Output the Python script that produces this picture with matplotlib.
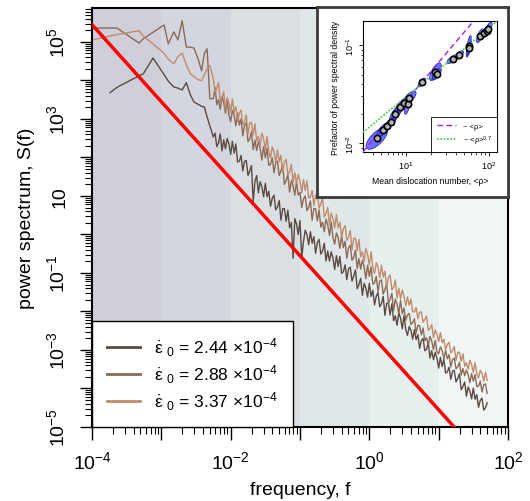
import numpy as np
import matplotlib
matplotlib.use("Agg")
import matplotlib.pyplot as plt
from matplotlib.ticker import FixedLocator, LogLocator, NullFormatter

plt.rcParams['font.family'] = ['Liberation Sans', 'DejaVu Sans']
plt.rcParams['mathtext.fontset'] = 'custom'
plt.rcParams['mathtext.rm'] = 'Liberation Sans'
plt.rcParams['mathtext.it'] = 'Liberation Sans:italic'
plt.rcParams['mathtext.bf'] = 'Liberation Sans:bold'
plt.rcParams['mathtext.sf'] = 'Liberation Sans'

# ---- main spectra (log10 f, log10 S) ----
log_f = [-4.00, -3.74, -3.64, -3.32, -3.26, -3.12, -2.96, -2.90, -2.82, -2.76,
         -2.70, -2.64, -2.58, -2.53, -2.47, -2.42, -2.38, -2.34, -2.30,
         -2.250, -2.225, -2.200, -2.175, -2.150, -2.125, -2.100, -2.075, -2.050, -2.025,
         -2.000, -1.975, -1.950, -1.925, -1.900, -1.875, -1.850, -1.825, -1.800, -1.775,
         -1.750, -1.725, -1.700, -1.675, -1.650, -1.625, -1.600, -1.575, -1.550, -1.525,
         -1.500, -1.475, -1.450, -1.425, -1.400, -1.375, -1.350, -1.325, -1.300, -1.275,
         -1.250, -1.225, -1.200, -1.175, -1.150, -1.125, -1.100, -1.075, -1.050, -1.025,
         -1.000, -0.975, -0.950, -0.925, -0.900, -0.875, -0.850, -0.825, -0.800, -0.775,
         -0.750, -0.725, -0.700, -0.675, -0.650, -0.625, -0.600, -0.575, -0.550, -0.525,
         -0.500, -0.475, -0.450, -0.425, -0.400, -0.375, -0.350, -0.325, -0.300, -0.275,
         -0.250, -0.225, -0.200, -0.175, -0.150, -0.125, -0.100, -0.075, -0.050, -0.025,
         0.000, 0.025, 0.050, 0.075, 0.100, 0.125, 0.150, 0.175, 0.200, 0.225,
         0.250, 0.275, 0.300, 0.325, 0.350, 0.375, 0.400, 0.425, 0.450, 0.475,
         0.500, 0.525, 0.550, 0.575, 0.600, 0.625, 0.650, 0.675, 0.700, 0.725,
         0.750, 0.775, 0.800, 0.825, 0.850, 0.875, 0.900, 0.925, 0.950, 0.975,
         1.000, 1.025, 1.050, 1.075, 1.100, 1.125, 1.150, 1.175, 1.200, 1.225,
         1.250, 1.275, 1.300, 1.325, 1.350, 1.375, 1.400, 1.425, 1.450, 1.475,
         1.500, 1.525, 1.550, 1.575, 1.600, 1.625, 1.650, 1.675, 1.700]

logS_244 = [np.nan, 3.68, 3.82, 4.12, 4.17, 4.58, 4.15, 3.98, 3.83, 3.80,
            3.75, 3.94, 3.62, 3.44, 3.38, 3.33, 3.31, 3.05, 2.82,
            2.53, 2.63, 2.28, 2.38, 2.61, 2.17, 2.46, 2.22, 2.49, 2.35,
            2.08, 2.42, 2.11, 2.35, 1.88, 1.90, 2.05, 1.65, 1.90, 1.92,
            1.53, 1.65, 1.79, 0.85, 1.38, 1.53, 1.08, 1.37, 1.24, 0.98,
            1.33, 0.98, 1.12, 0.73, 0.94, 1.02, 0.64, 0.71, 0.88, 0.37,
            0.67, 0.67, 0.34, 0.63, 0.17, 0.31, -0.62, 0.41, 0.27, 0.00,
            0.36, -0.60, -0.19, 0.11, 0.00, -0.27, 0.07, -0.23, -0.06, -0.49,
            -0.21, -0.13, -0.51, -0.43, -0.23, -0.69, -0.43, -0.69, -0.45, -0.61,
            -0.91, -0.55, -0.83, -0.57, -1.01, -0.97, -0.79, -1.17, -0.89, -0.85,
            -1.21, -1.08, -0.92, -1.41, -1.30, -1.14, -1.58, -1.27, -1.39, -1.63,
            -1.27, -1.61, -1.45, -1.83, -1.60, -1.51, -1.88, -1.79, -1.61, -2.10,
            -1.79, -1.78, -2.09, -1.80, -2.24, -2.11, -2.36, -2.03, -2.17, -2.45,
            -2.10, -2.47, -2.62, -2.39, -2.49, -2.72, -2.47, -2.73, -2.60, -2.96,
            -2.76, -2.70, -3.02, -2.98, -2.82, -3.21, -3.02, -3.25, -3.06, -3.21,
            -3.47, -3.19, -3.43, -3.24, -3.60, -3.57, -3.45, -3.76, -3.55, -3.53,
            -3.83, -3.74, -3.62, -4.03, -3.95, -3.83, -4.20, -3.96, -4.07, -4.27,
            -3.99, -4.28, -4.16, -4.49, -4.31, -4.25, -4.56, -4.50, -4.37]

logS_288 = [5.36, 5.36, 5.36, 4.97, 5.08, 5.25, 5.44, 4.95, 5.26, 5.05,
            5.55, 4.87, 4.86, 4.84, 4.56, 4.25, 4.70, 4.82, 3.52,
            3.53, 3.82, 3.37, 3.50, 3.25, 3.58, 3.43, 3.15, 3.50, 3.10,
            2.93, 3.22, 3.10, 2.82, 3.15, 2.84, 3.00, 2.56, 2.83, 2.90,
            2.41, 2.48, 2.67, 2.20, 2.45, 2.18, 2.41, 2.24, 1.93, 2.28,
            1.99, 2.24, 1.79, 1.82, 1.99, 1.60, 1.87, 1.90, 1.53, 1.65,
            1.80, 1.30, 1.40, 1.55, 1.10, 1.40, 1.27, 1.02, 1.37, 1.02,
            1.09, 0.70, 0.92, 1.00, 0.62, 0.70, 0.87, 0.37, 0.67, 0.67,
            0.35, 0.64, 0.19, 0.32, 0.07, 0.40, 0.25, -0.03, 0.32, -0.08,
            -0.25, 0.04, -0.08, -0.36, -0.03, -0.34, -0.18, -0.62, -0.35, -0.28,
            -0.67, -0.60, -0.41, -0.88, -0.63, -0.90, -0.67, -0.84, -1.15, -0.80,
            -1.09, -0.84, -1.29, -1.26, -1.09, -1.48, -1.21, -1.18, -1.55, -1.43,
            -1.28, -1.78, -1.68, -1.53, -1.98, -1.68, -1.81, -2.06, -1.71, -2.06,
            -1.91, -2.23, -2.09, -2.05, -2.34, -2.29, -2.19, -2.56, -2.36, -2.37,
            -2.61, -2.43, -2.76, -2.68, -2.87, -2.65, -2.77, -2.99, -2.75, -3.05,
            -3.10, -2.92, -3.01, -3.23, -3.01, -3.23, -3.12, -3.44, -3.25, -3.21,
            -3.49, -3.44, -3.32, -3.65, -3.48, -3.67, -3.52, -3.64, -3.85, -3.61,
            -3.81, -3.64, -3.95, -3.94, -3.81, -4.09, -3.90, -3.88, -4.13]

logS_337 = [5.05, 5.15, 5.19, 5.29, 5.15, 4.95, 4.70, 4.55, 4.43, 4.62,
            4.71, 4.40, 4.17, 4.10, 4.02, 3.99, 4.15, 4.30, 4.38,
            4.05, 3.68, 3.80, 3.95, 3.45, 3.55, 3.70, 3.25, 3.55, 3.42,
            3.17, 3.52, 3.17, 3.32, 2.93, 3.15, 3.23, 2.85, 2.93, 3.10,
            2.60, 2.90, 2.90, 2.58, 2.87, 2.42, 2.55, 2.30, 2.63, 2.48,
            2.20, 2.55, 2.15, 1.98, 2.27, 2.15, 1.87, 2.20, 1.89, 2.05,
            1.61, 1.88, 1.95, 1.56, 1.63, 1.82, 1.35, 1.60, 1.33, 1.56,
            1.39, 1.08, 1.43, 1.14, 1.39, 0.94, 0.97, 1.14, 0.75, 1.02,
            1.05, 0.68, 0.80, 0.95, 0.45, 0.55, 0.70, 0.25, 0.55, 0.42,
            0.17, 0.52, 0.17, 0.32, -0.07, 0.15, 0.23, -0.15, -0.07, 0.10,
            -0.40, -0.10, -0.10, -0.42, -0.13, -0.58, -0.45, -0.70, -0.37, -0.52,
            -0.80, -0.45, -0.85, -1.02, -0.73, -0.85, -1.13, -0.80, -1.11, -0.95,
            -1.39, -1.12, -1.05, -1.44, -1.37, -1.18, -1.65, -1.40, -1.67, -1.44,
            -1.61, -1.85, -1.62, -1.84, -1.68, -2.01, -2.01, -1.90, -2.19, -2.02,
            -2.01, -2.28, -2.21, -2.12, -2.49, -2.44, -2.34, -2.68, -2.48, -2.59,
            -2.78, -2.55, -2.81, -2.72, -3.00, -2.85, -2.80, -3.08, -3.02, -2.91,
            -3.27, -3.06, -3.06, -3.29, -3.10, -3.42, -3.33, -3.50, -3.27, -3.38,
            -3.58, -3.33, -3.61, -3.73, -3.53, -3.61, -3.81, -3.58, -3.79]

series_labels = [r"$\dot{\mathrm{\varepsilon}}\ _{0}$ = 2.44 $\times10^{-4}$",
                 r"$\dot{\mathrm{\varepsilon}}\ _{0}$ = 2.88 $\times10^{-4}$",
                 r"$\dot{\mathrm{\varepsilon}}\ _{0}$ = 3.37 $\times10^{-4}$"]
series_colors = ['#5b4a40', '#8c6a55', '#c08b6a']

# f^-2 reference line
red_prefactor = 2.8e-3
red_exponent = -2

# decade shading
band_edges = [1e-4, 1e-3, 1e-2, 1e-1, 1, 10, 100]
band_colors = ['#cfcfda', '#d4d6df', '#dadfe3', '#e0e7e8', '#e7efee', '#f0f6f6']

# ---- inset data (log10 <rho>, log10 prefactor) ----
ins_logx = [0.647, 0.719, 0.775, 0.823, 0.871, 0.928, 0.980, 1.020, 1.040, 1.189,
            1.353, 1.369, 1.562, 1.642, 1.755, 1.763, 1.892, 1.940, 1.972, 1.992]
ins_logy = [-1.952, -1.867, -1.823, -1.783, -1.704, -1.636, -1.592, -1.605, -1.538, -1.381,
            -1.272, -1.296, -1.143, -1.102, -1.013, -1.034, -0.905, -0.881, -0.854, -0.837]
ins_sx = [0.13, 0.07, 0.06, 0.06, 0.07, 0.07, 0.07, 0.04, 0.08, 0.045,
          0.07, 0.055, 0.07, 0.05, 0.03, 0.03, 0.045, 0.045, 0.03, 0.045]
ins_sy = [0.11, 0.07, 0.06, 0.06, 0.08, 0.08, 0.07, 0.10, 0.07, 0.045,
          0.09, 0.06, 0.045, 0.045, 0.11, 0.07, 0.07, 0.06, 0.06, 0.07]
ins_rho = 0.7
fit1_prefactor = 0.0027
fit07_prefactor = 0.00593

fig = plt.figure(figsize=(5.3, 5.02), dpi=100)
ax = fig.add_axes([92/530, 74/502, 416/530, 419/502])

for i in range(len(band_colors)):
    ax.axvspan(band_edges[i], band_edges[i+1], color=band_colors[i], lw=0, zorder=0)

f = 10 ** np.array(log_f)
handles = []
for vals, col, lab in zip([logS_244, logS_288, logS_337], series_colors, series_labels):
    h, = ax.plot(f, 10 ** np.array(vals), color=col, lw=1.0, label=lab, zorder=2)
    handles.append(h)

f_red = np.array([band_edges[0], band_edges[-1]])
ax.plot(f_red, red_prefactor * f_red ** red_exponent, color='#ff0000', lw=2.5, zorder=3)

ax.set_xscale('log')
ax.set_yscale('log')
ax.set_xlim(1e-4, 1e2)
ax.set_ylim(1e-5, 10 ** 5.88)

xt = [1e-4, 1e-3, 1e-2, 1e-1, 1, 10, 100]
ax.xaxis.set_major_locator(FixedLocator(xt))
ax.set_xticklabels([r'$10^{-4}$', '', r'$10^{-2}$', '', r'$10^{0}$', '', r'$10^{2}$'])
ax.xaxis.set_minor_locator(LogLocator(base=10, subs=np.arange(2, 10), numticks=100))
ax.xaxis.set_minor_formatter(NullFormatter())

yt = [10.0 ** k for k in range(-5, 6)]
ylab = []
for k in range(-5, 6):
    if k % 2 == 0:
        ylab.append('')
    elif k == 1:
        ylab.append('10')
    else:
        ylab.append(r'$10^{%d}$' % k)
ax.yaxis.set_major_locator(FixedLocator(yt))
ax.set_yticklabels(ylab, rotation=90, va='center')
ax.yaxis.set_minor_locator(LogLocator(base=10, subs=np.arange(2, 10), numticks=100))
ax.yaxis.set_minor_formatter(NullFormatter())

ax.tick_params(which='major', direction='out', length=9, width=1, labelsize=14, color='black')
ax.tick_params(which='minor', direction='out', length=5, width=0.8)
ax.tick_params(axis='y', which='major', pad=8)
ax.tick_params(axis='x', which='major', pad=8)
for s in ax.spines.values():
    s.set_linewidth(1.5)

ax.set_xlabel('frequency, f', fontsize=14, labelpad=6)
ax.set_ylabel('power spectrum, S(f)', fontsize=14, labelpad=8)

leg = ax.legend(handles=handles, loc='lower left', bbox_to_anchor=(0, 0), borderaxespad=0,
                fancybox=False, edgecolor='black', framealpha=1, fontsize=12.5,
                handlelength=1.9, handletextpad=0.85, labelspacing=0.25, borderpad=0.85)
leg.get_frame().set_linewidth(1.0)
for ln in leg.get_lines():
    ln.set_linewidth(2.0)

# ---- inset panel ----
panel = fig.add_axes([317/530, 1 - 198/502, 191/530, 190/502])
panel.set_xticks([])
panel.set_yticks([])
panel.set_facecolor('white')
for s in panel.spines.values():
    s.set_linewidth(2)
    s.set_color('#3a3a3a')

ins = fig.add_axes([363/530, 1 - 153/502, 134/530, 131/502])
ins.set_xscale('log')
ins.set_yscale('log')
ins.set_xlim(10 ** 0.48, 10 ** 2.096)
ins.set_ylim(10 ** -2.09, 10 ** -0.755)

t = np.linspace(0, 2 * np.pi, 60)
for cx, cy, sx, sy in zip(ins_logx, ins_logy, ins_sx, ins_sy):
    ex = cx + sx * np.cos(t)
    ey = cy + sy * (ins_rho * np.cos(t) + np.sqrt(1 - ins_rho ** 2) * np.sin(t))
    ins.fill(10 ** ex, 10 ** ey, facecolor=(0.25, 0.25, 1.0, 0.75), edgecolor='#1a1ab0', lw=0.5, zorder=2)

xr = np.array([10 ** 0.48, 10 ** 2.096])
ins.plot(xr, fit1_prefactor * xr, color='#a020f0', lw=1, ls=(0, (4, 2.5)), label=r'~ <ρ>', zorder=3)
ins.plot(xr, fit07_prefactor * xr ** 0.7, color='#3ad03a', lw=1.2, ls=(0, (1, 1)), label=r'~ <ρ>$^{0.7}$', zorder=3)
ins.plot(10 ** np.array(ins_logx), 10 ** np.array(ins_logy), 'o', ms=4.5, mfc='#b4b4b4', mec='black', mew=1.2, zorder=4)

ins.xaxis.set_major_locator(FixedLocator([10, 100]))
ins.set_xticklabels([r'$10^{1}$', r'$10^{2}$'])
ins.xaxis.set_minor_locator(LogLocator(base=10, subs=np.arange(2, 10), numticks=100))
ins.xaxis.set_minor_formatter(NullFormatter())
ins.yaxis.set_major_locator(FixedLocator([0.01, 0.1]))
ins.set_yticklabels([r'$10^{-2}$', r'$10^{-1}$'], rotation=90, va='center')
ins.yaxis.set_minor_locator(LogLocator(base=10, subs=np.arange(2, 10), numticks=100))
ins.yaxis.set_minor_formatter(NullFormatter())
ins.tick_params(which='major', direction='out', length=3, width=0.6, labelsize=6.5, pad=2)
ins.tick_params(which='minor', direction='out', length=1.8, width=0.5)
for s in ins.spines.values():
    s.set_linewidth(0.8)
ins.set_xlabel('Mean dislocation number, <ρ>', fontsize=6.2, labelpad=4)
ins.set_ylabel('Prefactor of power spectral density', fontsize=6.2, labelpad=3)

ileg = ins.legend(loc='lower right', borderaxespad=0, fancybox=False, edgecolor='black',
                  framealpha=1, fontsize=5.5, handlelength=2.6, handletextpad=0.8,
                  labelspacing=0.5, borderpad=0.7)
ileg.get_frame().set_linewidth(0.6)

fig.savefig('out.png', dpi=100)
